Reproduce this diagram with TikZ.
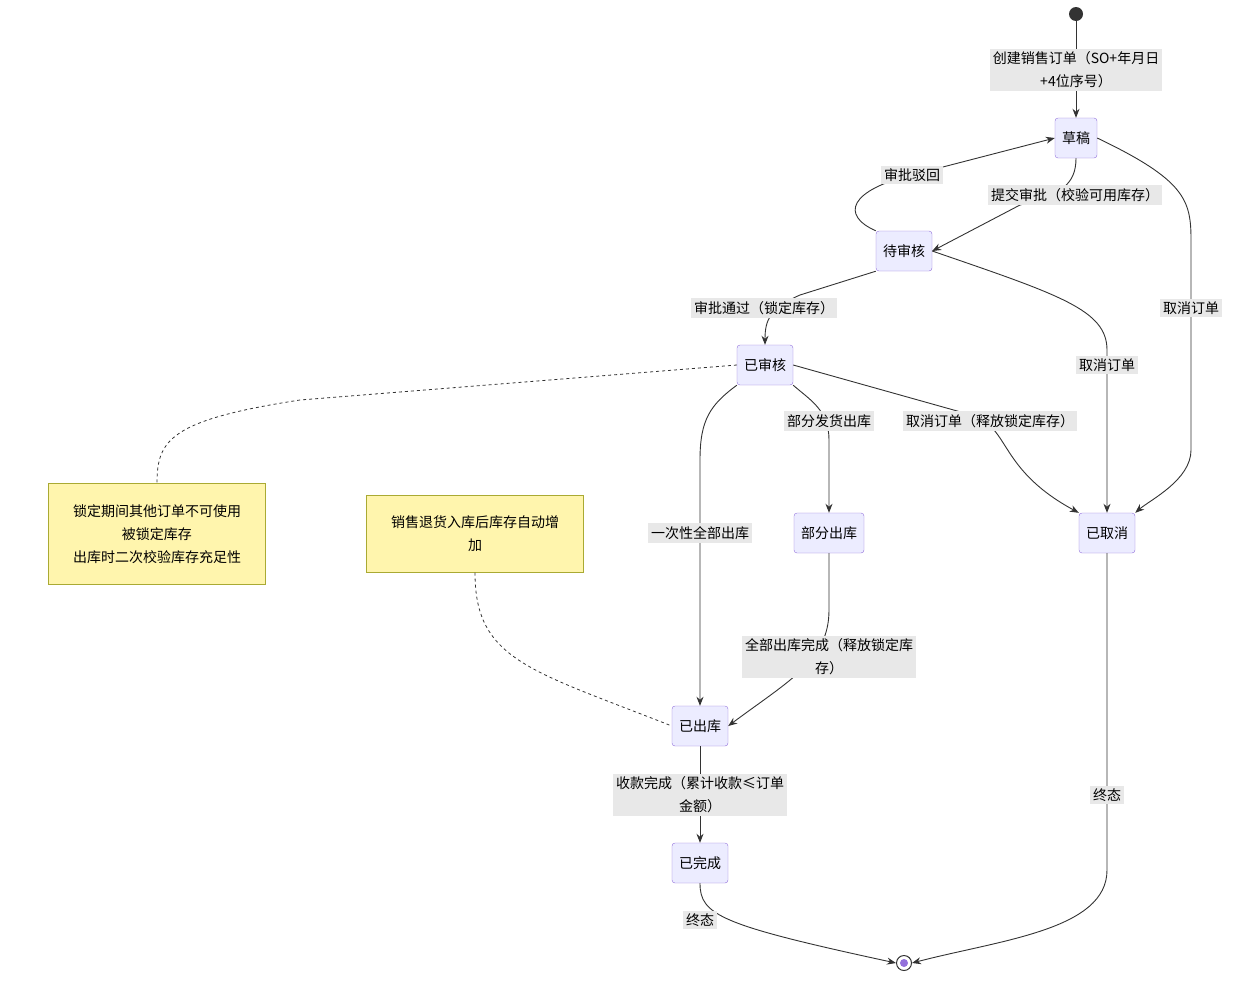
\documentclass[tikz,border=0pt]{standalone}
\usepackage{fontspec}
\setmainfont{Noto Sans CJK SC}
\usetikzlibrary{arrows.meta}
\definecolor{stfill}{HTML}{ECECFF}
\definecolor{stdraw}{HTML}{9370DB}
\definecolor{ntfill}{HTML}{FFF5AD}
\definecolor{ntdraw}{HTML}{AAAA33}
\definecolor{lbfill}{HTML}{E8E8E8}
\definecolor{ln}{HTML}{333333}
\tikzset{
  state/.style={draw=stdraw,fill=stfill,rounded corners=3pt,minimum height=40pt,inner xsep=7pt,font=\fontsize{14}{17}\selectfont},
  note/.style={draw=ntdraw,fill=ntfill,align=center,font=\fontsize{14}{23}\selectfont,text width=210pt},
  lbl/.style={fill=lbfill,inner sep=3pt,align=center,font=\fontsize{14}{23}\selectfont},
  edge/.style={draw=ln,line width=0.9pt,-{Stealth[length=9pt,width=7pt]}},
  link/.style={draw=ln,line width=0.8pt,dashed}
}
\begin{document}
\begin{tikzpicture}[x=1pt,y=-1pt]
\useasboundingbox (0,0) rectangle (1239,986);
% states
\node[circle,fill=ln,inner sep=0pt,minimum size=14pt] (start) at (1076,14) {};
\node[state] (draft) at (1076,138) {草稿};
\node[state] (pending) at (904,251) {待审核};
\node[state] (approved) at (765,365) {已审核};
\node[state] (partial) at (829,533) {部分出库};
\node[state] (cancel) at (1107,533) {已取消};
\node[state] (shipped) at (700,726) {已出库};
\node[state] (done) at (700,863) {已完成};
\node[circle,draw=ln,line width=1pt,fill=white,inner sep=0pt,minimum size=15pt] (stop) at (904,963) {};
\node[circle,fill=stdraw,inner sep=0pt,minimum size=8pt] at (stop) {};
% notes
\node[note,minimum height=101pt] (lock) at (157,534) {锁定期间其他订单不可使用\\被锁定库存\\出库时二次校验库存充足性};
\node[note,minimum height=77pt] (ret) at (475,534) {销售退货入库后库存自动增\\加};
% edges
\draw[edge] (start) -- (draft);
\node[lbl] at (1076,70) {创建销售订单（SO+年月日\\+4位序号）};
\draw[edge] (draft.south) .. controls (1076,185) and (1060,195) .. (1020,205) -- (pending.east);
\node[lbl] at (1075,195) {提交审批（校验可用库存）};
\draw[edge] (pending.north west) .. controls (840,215) and (850,190) .. (912,175) -- (draft.west);
\node[lbl] at (912,175) {审批驳回};
\draw[edge] (draft.east) .. controls (1185,180) and (1191,200) .. (1191,240) -- (1191,450) .. controls (1191,480) and (1150,500) .. (cancel.north east);
\node[lbl] at (1191,308) {取消订单};
\draw[edge] (pending.south west) -- (800,295) .. controls (770,308) and (765,320) .. (approved.north);
\node[lbl] at (764,308) {审批通过（锁定库存）};
\draw[edge] (pending.east) .. controls (1060,295) and (1107,310) .. (1107,350) -- (cancel.north);
\node[lbl] at (1107,365) {取消订单};
\draw[edge] (approved.south east) .. controls (810,400) and (829,410) .. (829,440) -- (partial.north);
\node[lbl] at (829,421) {部分发货出库};
\draw[edge] (approved.east) -- (975,416) .. controls (1010,430) and (1000,470) .. (cancel.north west);
\node[lbl] at (990,421) {取消订单（释放锁定库存）};
\draw[edge] (approved.south west) .. controls (710,405) and (700,420) .. (700,460) -- (shipped.north);
\node[lbl] at (700,533) {一次性全部出库};
\draw[edge] (partial.south) -- (829,610) .. controls (829,660) and (790,680) .. (shipped.east);
\node[lbl] at (829,657) {全部出库完成（释放锁定库\\存）};
\draw[edge] (shipped) -- (done);
\node[lbl] at (700,795) {收款完成（累计收款≤订单\\金额）};
\draw[edge] (done.south) .. controls (700,915) and (720,925) .. (stop.west);
\node[lbl] at (700,920) {终态};
\draw[edge] (cancel.south) -- (1107,870) .. controls (1107,930) and (1000,940) .. (stop.east);
\node[lbl] at (1107,795) {终态};
% note links
\draw[link] (approved.west) -- (300,400) .. controls (170,420) and (157,440) .. (lock.north);
\draw[link] (ret.south) .. controls (475,660) and (530,670) .. (shipped.west);
\end{tikzpicture}
\end{document}
